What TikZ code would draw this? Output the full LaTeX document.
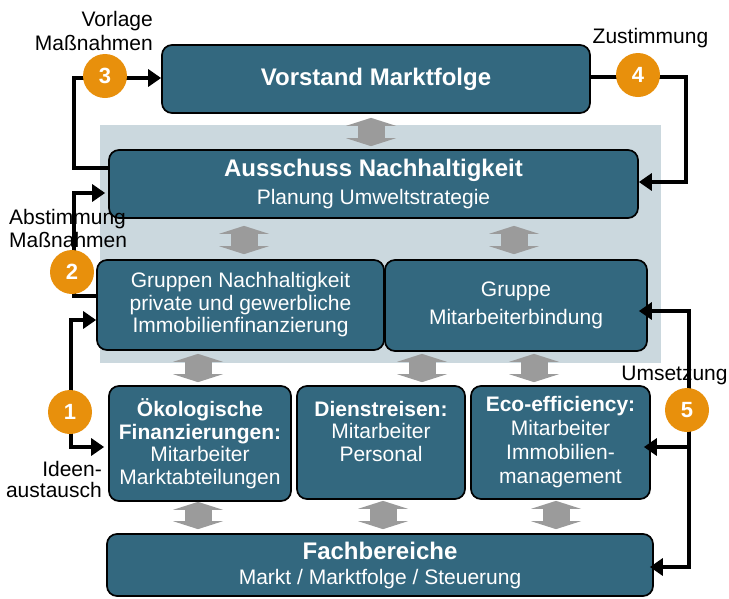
\documentclass[tikz,border=0pt]{standalone}
\usepackage{fontspec}
\setmainfont{Liberation Sans}
\usetikzlibrary{arrows.meta,calc}
\definecolor{boxblue}{HTML}{33687F}
\definecolor{panel}{HTML}{CBD8DE}
\definecolor{org}{HTML}{E8900C}
\definecolor{garr}{HTML}{9B9B9B}
\begin{document}
\begin{tikzpicture}[x=1pt,y=-1pt,
  box/.style={draw=black, line width=1.7pt, fill=boxblue, rounded corners=10pt,
    text=white, align=center, inner sep=0pt, font=\fontsize{21}{22.5}\selectfont},
  lbl/.style={inner sep=0pt, font=\fontsize{21}{22.5}\selectfont, text=black},
  num/.style={circle, fill=org, minimum size=44pt, inner sep=0pt, text=white,
    font=\fontsize{22}{24}\selectfont\bfseries},
  conn/.style={line width=3.3pt, black, line join=miter},
  tri/.tip={Triangle[length=13pt,width=17pt]},
  garrow/.style={line width=27pt, garr,
    {Triangle[length=8pt,width=50pt,line width=0pt]}-{Triangle[length=8pt,width=50pt,line width=0pt]}}
]
\useasboundingbox (0,0) rectangle (729,598);
% panel
\fill[panel] (100,125) rectangle (661,363);

% boxes
\node[box, minimum width=428pt, minimum height=68pt] (vor) at (376,79)
  {\fontsize{24}{26}\selectfont\bfseries Vorstand Marktfolge};
\node[box, minimum width=529pt, minimum height=68pt] (aus) at (373.5,184)
  {{\fontsize{24}{26}\selectfont\bfseries Ausschuss Nachhaltigkeit}\\[5.5pt]Planung Umweltstrategie};
\node[box, minimum width=287pt, minimum height=90pt] (gn) at (240.5,305)
  {Gruppen Nachhaltigkeit\\private und gewerbliche\\Immobilienfinanzierung};
\node[box, minimum width=262pt, minimum height=91pt] (gm) at (516,305.5)
  {Gruppe\\[5.5pt]Mitarbeiterbindung};
\node[box, minimum width=182pt, minimum height=115pt] (oek) at (200,443.5)
  {\textbf{Ökologische}\\\textbf{Finanzierungen:}\\Mitarbeiter\\Marktabteilungen};
\node[box, minimum width=168pt, minimum height=113pt] (dr) at (381,442.5)
  {\textbf{Dienstreisen:}\\Mitarbeiter\\Personal\\\mbox{}};
\node[box, minimum width=179pt, minimum height=113pt] (eco) at (560.5,442.5)
  {\textbf{Eco-efficiency:}\\[1.5pt]Mitarbeiter\\[1.5pt]Immobilien-\\[1.5pt]management};
\node[box, minimum width=546pt, minimum height=62pt] (fb) at (380,565)
  {{\fontsize{24}{26}\selectfont\bfseries Fachbereiche}\\[2.5pt]Markt / Marktfolge / Steuerung};

% grey double arrows
\draw[garrow] ($(vor.south)+(-5,4)$) -- ($(aus.north)+(-2.5,-3)$);
\draw[garrow] ($(aus.south)+(-129.5,7)$) -- ($(gn.north)+(3.5,-5)$);
\draw[garrow] ($(aus.south)+(140.5,7)$) -- ($(gm.north)+(-2,-5)$);
\draw[garrow] ($(gn.south)+(-42.5,3)$) -- ($(oek.north)+(-2,-3)$);
\draw[garrow] ($(gm.south)+(-94,2)$) -- ($(dr.north)+(41,-3)$);
\draw[garrow] ($(gm.south)+(18,2)$) -- ($(eco.north)+(-26.5,-3)$);
\draw[garrow] ($(oek.south)+(-2,0)$) -- ($(fb.north)+(-182,-4)$);
\draw[garrow] ($(dr.south)+(2,1)$) -- ($(fb.north)+(3,-4)$);
\draw[garrow] ($(eco.south)+(-4.5,1)$) -- ($(fb.north)+(176,-4)$);

% connector corner points
\coordinate (p3a) at (74,168);
\coordinate (p3b) at (74,78);
\coordinate (p4a) at (686,77);
\coordinate (p4b) at (686,182);
\coordinate (p2a) at (74,296);
\coordinate (p2b) at (74,193);
\coordinate (p1a) at (71,320);
\coordinate (p1b) at (71,447);
\coordinate (p5a) at (689,311);
\coordinate (p5b) at (689,567);
\coordinate (p5c) at (689,447);

% labels
\node[lbl, anchor=east, align=right] (l3) at (153,31) {Vorlage\\[1.5pt]Maßnahmen};
\node[lbl, anchor=base] (l4) at (650.5,43) {Zustimmung};
\node[lbl, anchor=west, align=left] (l2) at (9,228.5) {Abstimmung\\Maßnahmen};
\node[lbl, anchor=east, align=right] (l1) at (102,479.5) {Ideen-\\[-2pt]austausch};
\node[lbl, anchor=base] (l5) at (674.5,380) {Umsetzung};

% connectors
\draw[conn, -tri] (aus.west |- p3a) -- (p3a) -- (p3b) -- (vor.west |- p3b);
\draw[conn, -tri] (vor.east |- p4a) -- (p4a) -- (p4b) -- (aus.east |- p4b);
\draw[conn, -tri, shorten >=3pt] (gn.west |- p2a) -- (p2a) -- (p2b) -- (aus.west |- p2b);
\draw[conn, tri-tri, shorten >=4pt] (gn.west |- p1a) -- (p1a) -- (p1b) -- (oek.west |- p1b);
\draw[conn, tri-tri, shorten <=-9pt, shorten >=-4pt] (gm.east |- p5a) -- (p5a) -- (p5b) -- (fb.east |- p5b);
\draw[conn, -tri, shorten >=-7pt] (p5c) -- (eco.east |- p5c);

% numbered circles
\node[num] (n3) at (105,76) {3};
\node[num] (n4) at (638,75) {4};
\node[num] (n2) at (72,272) {2};
\node[num] (n1) at (70,412) {1};
\node[num] (n5) at (687,410) {5};
\end{tikzpicture}
\end{document}
